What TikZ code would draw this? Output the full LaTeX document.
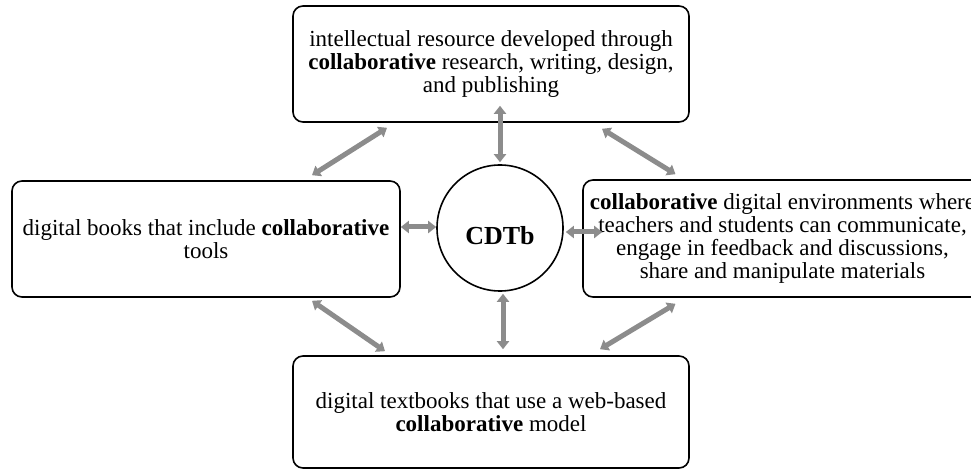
\documentclass[tikz,border=0pt]{standalone}
\usepackage{fontspec}
\setmainfont{Liberation Serif}
\usetikzlibrary{arrows.meta}

\begin{document}
\begin{tikzpicture}[x=1pt,y=-1pt]
        \tikzstyle{b} = [rectangle, rounded corners=10pt, align=center,
                         draw=black, line width=1.6pt,
                         font=\fontsize{23}{23.3}\selectfont]
        \tikzstyle{c} = [circle, draw=black, line width=1.6pt, minimum size=126pt,
                         inner sep=0pt, text height=34pt, text depth=0pt,
                         font=\bfseries\fontsize{26}{28}\selectfont]
        \tikzstyle{a} = [{Triangle[width=12pt,length=8pt]}-{Triangle[width=12pt,length=8pt]},
                         line width=5pt, draw=gray!90]

        \clip (0,0) rectangle (971,470);

        \node(cdtb)  [c] at (500,228) {CDTb};
        \node(intel) [b, minimum width=396pt, minimum height=116pt,
                      above of=cdtb, node distance=164pt, xshift=-9pt]
              {intellectual resource developed through\\
               \textbf{collaborative} research, writing, design,\\
               and publishing};
        \node(books) [b, minimum width=388pt, minimum height=116pt,
                      left of=cdtb, node distance=294pt, yshift=-11pt]
              {digital books that include \textbf{collaborative}\\ tools};
        \node(envir) [b, minimum width=399pt, minimum height=117pt,
                      right of=cdtb, node distance=282.5pt, yshift=-10.5pt]
              {\textbf{collaborative} digital environments where\\
               teachers and students can communicate,\\
               engage in feedback and discussions,\\
               share and manipulate materials};
        \node(texts) [b, minimum width=396pt, minimum height=112pt,
                      below of=cdtb, node distance=184pt, xshift=-9pt]
              {digital textbooks that use a web-based\\
               \textbf{collaborative} model};

        \draw[a] ([xshift=106pt,yshift=5pt]books.north) -- ([xshift=-104pt,yshift=-5pt]intel.south);
        \draw[a] ([xshift=111pt,yshift=-6pt]intel.south) -- ([xshift=-107pt,yshift=5pt]envir.north);
        \draw[a] ([yshift=2pt]cdtb.north) -- ([xshift=9pt,yshift=17pt]intel.south);
        \draw[a] ([yshift=12pt]books.east) -- ([yshift=1pt]cdtb.west);
        \draw[a] ([xshift=2pt,yshift=-4pt]cdtb.east) -- ([xshift=20pt,yshift=6.5pt]envir.west);
        \draw[a] ([xshift=106pt,yshift=-3pt]books.south) -- ([xshift=-106pt,yshift=4pt]texts.north);
        \draw[a] ([xshift=3pt,yshift=-2pt]cdtb.south) -- ([xshift=12pt,yshift=6pt]texts.north);
        \draw[a] ([xshift=-107pt,yshift=-6pt]envir.south) -- ([xshift=109pt,yshift=6pt]texts.north);
      \end{tikzpicture}
\end{document}
